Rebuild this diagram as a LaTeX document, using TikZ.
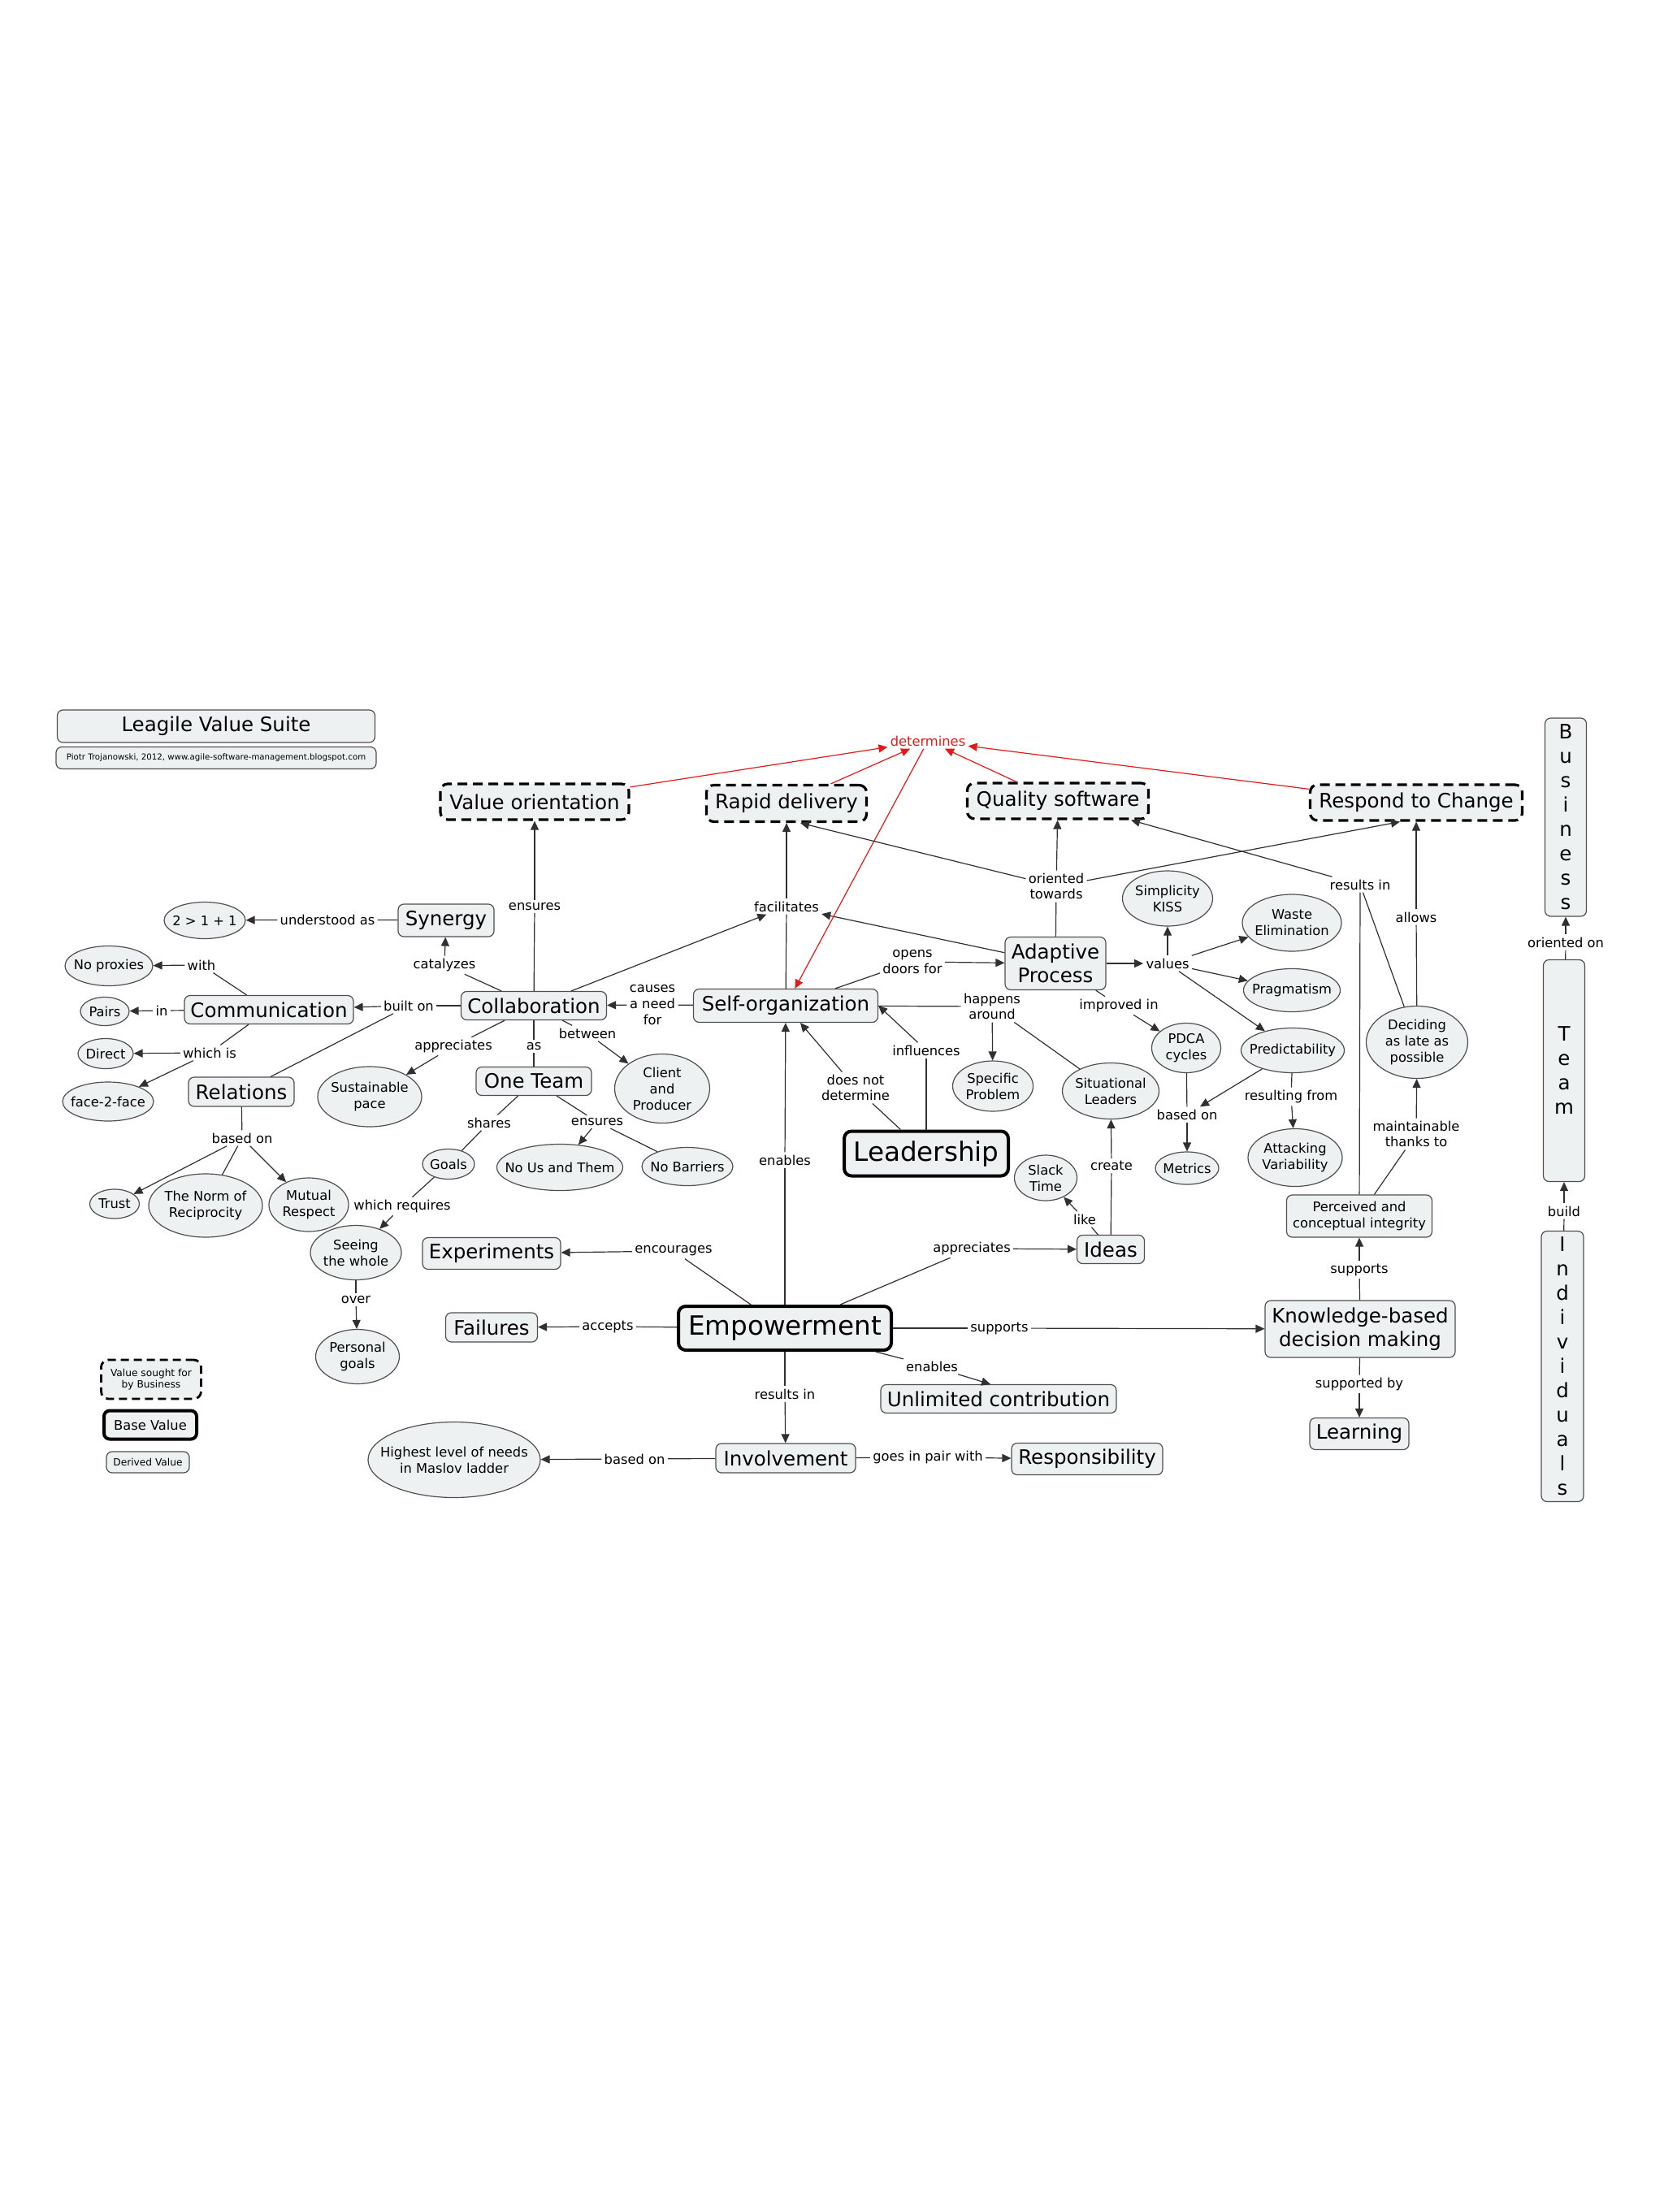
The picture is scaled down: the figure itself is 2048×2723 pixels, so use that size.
\documentclass[tikz,border=0pt]{standalone}
\usepackage{fontspec}
\setmainfont{DejaVu Sans}
\usetikzlibrary{shapes.geometric,arrows.meta}
\definecolor{cmapfill}{rgb}{0.9333,0.9451,0.9490}
\definecolor{cmapedge}{rgb}{0.3098,0.3098,0.3098}
\definecolor{cmapline}{rgb}{0.1882,0.1882,0.1882}
\definecolor{cmapred}{rgb}{0.9020,0.0980,0.0980}
\tikzset{
  wh/.style 2 args={minimum width=#1*0.5pt,minimum height=#2*0.5pt},
  conc/.style={draw=cmapedge,fill=cmapfill,rounded corners=3.5pt,line width=0.6pt,inner xsep=3pt,inner ysep=1pt,align=center,font=\fontsize{12.25}{14.75}\selectfont},
  smallconc/.style={conc,font=\fontsize{8.15}{10}\selectfont},
  bizval/.style={conc,draw=black,line width=1.6pt,dash pattern=on 6pt off 3.5pt,rounded corners=4.5pt},
  baseval/.style={conc,draw=black,line width=2pt,rounded corners=4.5pt,font=\fontsize{16.3}{19}\selectfont},
  vertconc/.style={conc,inner ysep=0pt,font=\fontsize{12.25}{15}\selectfont},
  idea/.style={ellipse,draw=cmapedge,fill=cmapfill,line width=0.6pt,inner xsep=-12pt,inner ysep=-3pt,align=center,font=\fontsize{8.15}{10}\selectfont},
  phrase/.style={inner sep=1.5pt,align=center,font=\fontsize{8.15}{9.8}\selectfont},
  cline/.style={draw=cmapline,line width=0.6pt},
  carrow/.style={cline,-{Triangle[length=5.5pt,width=5pt]}},
  redarrow/.style={draw=cmapred,line width=0.6pt,-{Triangle[length=5.5pt,width=5pt]}}
}
\begin{document}
\begin{tikzpicture}[x=0.5pt,y=-0.5pt]
\fill[white] (0,0) rectangle (2048,2723);
\useasboundingbox (0,0) rectangle (2048,2723);
\node[conc,wh={391}{40}] (title) at (266,894) {Leagile Value Suite};
\node[conc,wh={394}{27},font=\fontsize{5.1}{6}\selectfont] (credit) at (266,933) {Piotr Trojanowski, 2012, www.agile-software-management.blogspot.com};
\node[bizval,wh={232}{44}] (valor) at (658,987) {Value orientation};
\node[bizval,wh={197}{45}] (rapid) at (968,989) {Rapid delivery};
\node[bizval,wh={223}{44}] (quality) at (1302,986) {Quality software};
\node[bizval,wh={261}{44}] (respond) at (1743,988) {Respond to Change};
\node[conc,wh={118}{40}] (synergy) at (549,1133) {Synergy};
\node[conc,wh={124}{65}] (adaptive) at (1299,1186) {Adaptive\\Process};
\node[vertconc,wh={51}{244}] (business) at (1927,1006) {B\\u\\s\\i\\n\\e\\s\\s};
\node[vertconc,wh={51}{273}] (team) at (1925,1318) {T\\e\\a\\m};
\node[vertconc,wh={52}{333}] (indiv) at (1923,1682) {I\\n\\d\\i\\v\\i\\d\\u\\a\\l\\s};
\node[conc,wh={179}{35}] (collab) at (657,1238) {Collaboration};
\node[conc,wh={227}{41}] (selforg) at (967,1238) {Self-organization};
\node[conc,wh={208}{35}] (comm) at (331,1243) {Communication};
\node[conc,wh={130}{36}] (relat) at (297,1344) {Relations};
\node[conc,wh={142}{35}] (oneteam) at (657,1331) {One Team};
\node[baseval,wh={202}{55}] (leader) at (1140,1420) {Leadership};
\node[conc,wh={170}{39}] (experim) at (605,1543) {Experiments};
\node[conc,wh={113}{36}] (failures) at (605,1634) {Failures};
\node[baseval,wh={262}{54}] (empower) at (966,1635) {Empowerment};
\node[conc,wh={172}{36}] (involve) at (967,1795) {Involvement};
\node[conc,wh={83}{35}] (ideas) at (1367,1538) {Ideas};
\node[conc,wh={290}{35}] (unlim) at (1229,1722) {Unlimited contribution};
\node[conc,wh={186}{39}] (respons) at (1338,1796) {Responsibility};
\node[conc,wh={234}{70}] (knowledge) at (1674,1636) {Knowledge-based\\decision making};
\node[conc,wh={122}{39}] (learning) at (1673,1765) {Learning};
\node[smallconc,wh={179}{52}] (perceived) at (1673,1497) {Perceived and\\conceptual integrity};
\node[bizval,wh={123}{48},line width=1.4pt,dash pattern=on 5pt off 3pt,font=\fontsize{6.1}{7.3}\selectfont] (legbiz) at (186,1698) {Value sought for\\by Business};
\node[smallconc,wh={114}{35},draw=black,line width=2pt] (legbase) at (185,1754) {Base Value};
\node[conc,wh={102}{26},font=\fontsize{6.1}{7.3}\selectfont] (legderiv) at (182,1800) {Derived Value};
\node[idea,wh={100}{45}] (twoone) at (252,1133) {2 > 1 + 1};
\node[idea,wh={108}{49}] (noprox) at (134,1189) {No proxies};
\node[idea,wh={60}{35}] (pairs) at (129,1245) {Pairs};
\node[idea,wh={68}{37}] (direct) at (130,1297) {Direct};
\node[idea,wh={112}{48}] (ftf) at (133,1356) {face-2-face};
\node[idea,wh={128}{74}] (sustain) at (455,1350) {Sustainable\\pace};
\node[idea,wh={61}{36}] (trust) at (141,1482) {Trust};
\node[idea,wh={140}{78}] (norm) at (253,1484) {The Norm of\\Reciprocity};
\node[idea,wh={98}{66}] (mutual) at (380,1483) {Mutual\\Respect};
\node[idea,wh={64}{37}] (goals) at (552,1433) {Goals};
\node[idea,wh={112}{67}] (seeing) at (438,1542) {Seeing\\the whole};
\node[idea,wh={103}{67}] (personal) at (440,1670) {Personal\\goals};
\node[idea,wh={212}{93}] (highest) at (559,1797) {Highest level of needs\\in Maslov ladder};
\node[idea,wh={117}{85}] (client) at (815,1340) {Client\\and\\Producer};
\node[idea,wh={155}{57}] (nous) at (689,1437) {No Us and Them};
\node[idea,wh={112}{47}] (nobarr) at (846,1436) {No Barriers};
\node[idea,wh={111}{68}] (kiss) at (1437,1106) {Simplicity\\KISS};
\node[idea,wh={122}{70}] (waste) at (1590,1136) {Waste\\Elimination};
\node[idea,wh={119}{53}] (pragm) at (1590,1219) {Pragmatism};
\node[idea,wh={127}{55}] (predict) at (1591,1293) {Predictability};
\node[idea,wh={116}{71}] (attack) at (1594,1425) {Attacking\\Variability};
\node[idea,wh={125}{89}] (deciding) at (1744,1283) {Deciding\\as late as\\possible};
\node[idea,wh={85}{61}] (pdca) at (1460,1290) {PDCA\\cycles};
\node[idea,wh={78}{40}] (metrics) at (1461,1438) {Metrics};
\node[idea,wh={99}{62}] (specific) at (1222,1337) {Specific\\Problem};
\node[idea,wh={119}{69}] (situat) at (1367,1343) {Situational\\Leaders};
\node[idea,wh={77}{56}] (slack) at (1287,1450) {Slack\\Time};
\node[phrase] (lunder) at (403,1132) {understood as};
\node[phrase] (lwith) at (248,1188) {with};
\node[phrase] (lin) at (199,1244) {in};
\node[phrase] (lbuilt) at (503,1238) {built on};
\node[phrase] (lwhich) at (258,1296) {which is};
\node[phrase] (lbased1) at (298,1401) {based on};
\node[phrase] (lcatal) at (547,1188) {catalyzes};
\node[phrase] (lens1) at (658,1116) {ensures};
\node[phrase] (lfacil) at (968,1116) {facilitates};
\node[phrase] (lcauses) at (803,1237) {causes\\a need\\for};
\node[phrase] (lappr1) at (558,1288) {appreciates};
\node[phrase] (las) at (657,1288) {as};
\node[phrase] (lbetw) at (723,1272) {between};
\node[phrase] (lshares) at (602,1382) {shares};
\node[phrase] (lens2) at (735,1381) {ensures};
\node[phrase] (lreq) at (495,1485) {which requires};
\node[phrase] (lover) at (438,1600) {over};
\node[phrase,text=cmapred] (ldeterm) at (1142,912) {determines};
\node[phrase] (lorient) at (1300,1091) {oriented\\towards};
\node[phrase] (lopens) at (1123,1184) {opens\\doors for};
\node[phrase] (lvalues) at (1437,1186) {values};
\node[phrase] (lhappens) at (1221,1239) {happens\\around};
\node[phrase] (limpr) at (1377,1238) {improved in};
\node[phrase] (linfl) at (1140,1293) {influences};
\node[phrase] (ldoesnot) at (1053,1339) {does not\\determine};
\node[phrase] (lbased2) at (1461,1372) {based on};
\node[phrase] (lresulting) at (1589,1350) {resulting from};
\node[phrase] (lres1) at (1674,1089) {results in};
\node[phrase] (lallows) at (1743,1129) {allows};
\node[phrase] (lmaint) at (1743,1396) {maintainable\\thanks to};
\node[phrase] (lorienton) at (1927,1160) {oriented on};
\node[phrase] (lbuild) at (1925,1491) {build};
\node[phrase] (lenab1) at (966,1428) {enables};
\node[phrase] (lcreate) at (1368,1435) {create};
\node[phrase] (llike) at (1335,1501) {like};
\node[phrase] (lappr2) at (1196,1537) {appreciates};
\node[phrase] (lencour) at (829,1540) {encourages};
\node[phrase] (laccept) at (748,1633) {accepts};
\node[phrase] (lsupp1) at (1230,1635) {supports};
\node[phrase] (lenab2) at (1147,1682) {enables};
\node[phrase] (lres2) at (966,1716) {results in};
\node[phrase] (lbased3) at (781,1796) {based on};
\node[phrase] (lgoes) at (1142,1794) {goes in pair with};
\node[phrase] (lsupp2) at (1673,1563) {supports};
\node[phrase] (lsupby) at (1673,1704) {supported by};
\draw[cline] (synergy) -- (lunder);
\draw[carrow] (lunder) -- (twoone);
\draw[cline] (collab) -- (lcatal);
\draw[carrow] (lcatal) -- (synergy);
\draw[cline] (collab) -- (lens1);
\draw[carrow] (lens1) -- (valor);
\draw[carrow] (collab) -- (lfacil);
\draw[carrow] (adaptive) -- (lfacil);
\draw[cline] (selforg) -- (lfacil);
\draw[carrow] (lfacil) -- (rapid);
\draw[cline] (selforg) -- (lcauses);
\draw[carrow] (lcauses) -- (collab);
\draw[cline] (collab) -- (lbuilt);
\draw[carrow] (lbuilt) -- (comm);
\draw[cline] (lbuilt) -- (relat);
\draw[cline] (comm) -- (lwith);
\draw[carrow] (lwith) -- (noprox);
\draw[cline] (comm) -- (lin);
\draw[carrow] (lin) -- (pairs);
\draw[cline] (comm) -- (lwhich);
\draw[carrow] (lwhich) -- (direct);
\draw[carrow] (lwhich) -- (ftf);
\draw[cline] (relat) -- (lbased1);
\draw[carrow] (lbased1) -- (trust);
\draw[cline] (lbased1) -- (norm);
\draw[carrow] (lbased1) -- (mutual);
\draw[cline] (collab) -- (lappr1);
\draw[carrow] (lappr1) -- (sustain);
\draw[cline] (collab) -- (las);
\draw[cline] (las) -- (oneteam);
\draw[cline] (collab) -- (lbetw);
\draw[carrow] (lbetw) -- (client);
\draw[cline] (oneteam) -- (lshares);
\draw[cline] (lshares) -- (goals);
\draw[cline] (oneteam) -- (lens2);
\draw[carrow] (lens2) -- (nous);
\draw[cline] (lens2) -- (nobarr);
\draw[cline] (goals) -- (lreq);
\draw[carrow] (lreq) -- (seeing);
\draw[cline] (seeing) -- (lover);
\draw[carrow] (lover) -- (personal);
\draw[redarrow] (valor) -- (ldeterm);
\draw[redarrow] (rapid) -- (ldeterm);
\draw[redarrow] (quality) -- (ldeterm);
\draw[redarrow] (respond) -- (ldeterm);
\draw[redarrow] (ldeterm) -- (selforg);
\draw[cline] (adaptive) -- (lorient);
\draw[carrow] (lorient) -- (quality);
\draw[carrow] (lorient) -- ([xshift=8.5pt]rapid.south);
\draw[carrow] (lorient) -- ([xshift=-10pt]respond.south);
\draw[cline] (selforg) -- (lopens);
\draw[carrow] (lopens) -- (adaptive);
\draw[carrow] (adaptive) -- (lvalues);
\draw[carrow] (lvalues) -- (kiss);
\draw[carrow] (lvalues) -- (waste);
\draw[carrow] (lvalues) -- (pragm);
\draw[carrow] (lvalues) -- (predict);
\draw[cline] (adaptive) -- (limpr);
\draw[carrow] (limpr) -- (pdca);
\draw[cline] (pdca) -- (lbased2);
\draw[carrow] (predict) -- (lbased2);
\draw[carrow] (lbased2) -- (metrics);
\draw[cline] (predict) -- (lresulting);
\draw[carrow] (lresulting) -- (attack);
\draw[cline] (selforg) -- (lhappens);
\draw[carrow] (lhappens) -- (specific);
\draw[cline] (lhappens) -- (situat);
\draw[cline] (leader) -- (linfl);
\draw[carrow] (linfl) -- (selforg.east);
\draw[cline] (leader) -- (ldoesnot);
\draw[carrow] (ldoesnot) -- (selforg);
\draw[cline] (ideas) -- (lcreate);
\draw[carrow] (lcreate) -- (situat);
\draw[cline] (ideas) -- (llike);
\draw[carrow] (llike) -- (slack);
\draw[cline] (empower) -- (lenab1);
\draw[carrow] (lenab1) -- (selforg);
\draw[cline] (empower) -- (lappr2);
\draw[carrow] (lappr2) -- (ideas);
\draw[cline] (empower) -- (lencour);
\draw[carrow] (lencour) -- (experim);
\draw[cline] (empower) -- (laccept);
\draw[carrow] (laccept) -- (failures);
\draw[cline] (empower) -- (lsupp1);
\draw[carrow] (lsupp1) -- (knowledge);
\draw[cline] (empower) -- (lenab2);
\draw[carrow] (lenab2) -- ([xshift=-5pt]unlim.north);
\draw[cline] (empower) -- (lres2);
\draw[carrow] (lres2) -- (involve);
\draw[cline] (involve) -- (lbased3);
\draw[carrow] (lbased3) -- (highest);
\draw[cline] (involve) -- (lgoes);
\draw[carrow] (lgoes) -- (respons);
\draw[cline] (perceived) -- (lres1);
\draw[cline] (deciding) -- (lres1);
\draw[carrow] (lres1) -- ([xshift=45pt]quality.south);
\draw[cline] (deciding) -- (lallows);
\draw[carrow] (lallows) -- (respond);
\draw[cline] (perceived) -- (lmaint);
\draw[carrow] (lmaint) -- (deciding);
\draw[cline] (knowledge) -- (lsupp2);
\draw[carrow] (lsupp2) -- (perceived);
\draw[cline] (knowledge) -- (lsupby);
\draw[carrow] (lsupby) -- (learning);
\draw[cline] (indiv) -- (lbuild);
\draw[carrow] (lbuild) -- (team);
\draw[cline] (team) -- (lorienton);
\draw[carrow] (lorienton) -- (business);
\end{tikzpicture}
\end{document}
